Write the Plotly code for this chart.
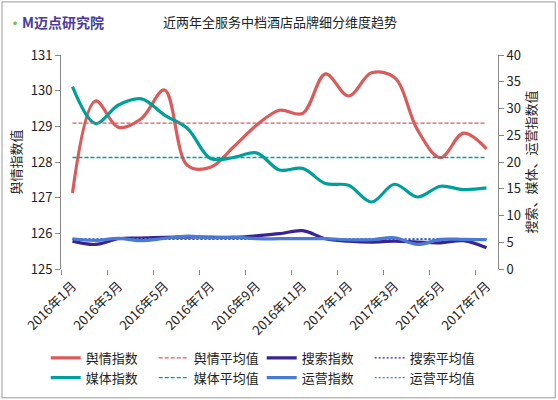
import plotly.graph_objects as go

# months 2016-01 .. 2017-07
months = ["2016年1月", "2016年2月", "2016年3月", "2016年4月", "2016年5月", "2016年6月",
          "2016年7月", "2016年8月", "2016年9月", "2016年10月", "2016年11月", "2016年12月",
          "2017年1月", "2017年2月", "2017年3月", "2017年4月", "2017年5月", "2017年6月",
          "2017年7月"]

yuqing = [127.13, 129.71, 128.97, 129.22, 130.02, 127.90, 127.85, 128.42, 129.03, 129.45,
          129.36, 130.47, 129.85, 130.50, 130.37, 128.90, 128.12, 128.81, 128.37]
sousuo = [5.21, 4.59, 5.66, 5.78, 5.90, 5.97, 5.97, 5.90, 6.22, 6.60,
          7.16, 5.66, 5.21, 5.03, 5.21, 5.03, 4.90, 5.30, 3.97]
meiti = [34.08, 27.20, 30.65, 31.80, 28.77, 26.27, 20.65, 20.84, 21.70, 18.50,
         18.80, 15.97, 15.65, 12.52, 15.84, 13.46, 15.46, 14.84, 15.15]
yunying = [5.66, 5.34, 5.72, 5.28, 5.72, 6.16, 5.84, 5.97, 5.66, 5.66,
           5.66, 5.66, 5.47, 5.47, 5.84, 4.59, 5.53, 5.53, 5.47]

yuqing_avg = 129.09
sousuo_avg = 5.55
meiti_avg = 20.84
yunying_avg = 5.65

x = list(range(len(months)))
n = len(months)

font = "Noto Sans CJK SC"
red = "#DA5B5B"
purple = "#3B2390"
teal = "#00A09A"
blue = "#4A7BD3"

fig = go.Figure()

def main_line(name, vals, color, axis):
    fig.add_trace(go.Scatter(x=x, y=vals, name=name, mode="lines", yaxis=axis,
                             line=dict(color=color, width=3.2, shape="spline", smoothing=1.0)))

def avg_line(name, val, color, axis, dash, xa="x"):
    fig.add_trace(go.Scatter(x=x, y=[val] * n, name=name, mode="lines", yaxis=axis, xaxis=xa,
                             line=dict(color=color, width=1.3, dash=dash)))

main_line("舆情指数", yuqing, red, "y")
# the red average sits on the second x axis, which only carries the boundary ticks
avg_line("舆情平均值", yuqing_avg, red, "y", "4px,2px", xa="x2")
main_line("搜索指数", sousuo, purple, "y2")
avg_line("搜索平均值", sousuo_avg, purple, "y2", "2px,2px")
main_line("媒体指数", meiti, teal, "y2")
avg_line("媒体平均值", meiti_avg, teal, "y2", "4px,2px")
main_line("运营指数", yunying, blue, "y2")
avg_line("运营平均值", yunying_avg, blue, "y2", "2px,2px")

xrange = [-0.5, n - 0.5]

fig.update_layout(
    width=558, height=400,
    margin=dict(l=61, r=60, t=55, b=131, autoexpand=False),
    paper_bgcolor="white", plot_bgcolor="white",
    font=dict(family=font, size=13, color="#222"),
    showlegend=True,
    legend=dict(orientation="h", x=-0.035, y=-0.345, xanchor="left", yanchor="top",
                entrywidth=63, entrywidthmode="pixels", font=dict(size=13),
                tracegroupgap=0, itemwidth=30),
    xaxis=dict(range=xrange, tickmode="array", tickvals=x[::2],
               ticktext=months[::2], tickangle=-45, ticks="", showgrid=False,
               showline=False, zeroline=False, tickfont=dict(size=13), automargin=False,
               ticklabelstandoff=6),
    xaxis2=dict(range=xrange, overlaying="x", anchor="y", side="bottom",
                tickmode="array", tickvals=[i - 0.5 for i in x[::2]],
                showticklabels=False, ticks="outside", ticklen=5, tickcolor="#888",
                showgrid=False, showline=False, zeroline=False, automargin=False),
    yaxis=dict(range=[125, 131], dtick=1, ticks="outside", ticklen=5, tickcolor="#888",
               showline=True, linecolor="#888", showgrid=False, zeroline=False,
               automargin=False,
               title=dict(text="舆情指数值", font=dict(size=13), standoff=6),
               tickfont=dict(size=13)),
    yaxis2=dict(range=[0, 40], dtick=5, overlaying="y", side="right", ticks="outside",
                ticklen=5, tickcolor="#888", showline=True, linecolor="#888",
                showgrid=False, zeroline=False, automargin=False,
                title=dict(text="搜索、媒体、运营指数值", font=dict(size=13), standoff=6),
                tickfont=dict(size=13)),
)

fig.add_annotation(text="近两年全服务中档酒店品牌细分维度趋势", xref="paper", yref="paper",
                   x=0.5, y=1.155, xanchor="center", yanchor="middle", showarrow=False,
                   font=dict(size=13, color="#222"))
fig.add_annotation(text="<b><span style='color:#7cc242'>·</span>M迈点研究院</b>",
                   xref="paper", yref="paper", x=-0.125, y=1.155, xanchor="left",
                   yanchor="middle", showarrow=False, font=dict(size=14, color="#4B3A9E"))

fig.add_shape(type="rect", xref="paper", yref="paper", x0=-0.135, x1=1.131,
              y0=-0.602, y1=1.248, line=dict(color="#999", width=1))

fig.write_html("out.html", config={"displayModeBar": False},
               post_script="document.body.style.margin='0';")
